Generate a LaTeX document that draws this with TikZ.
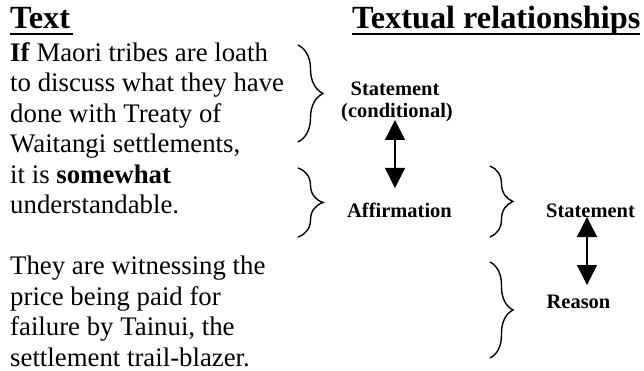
\documentclass[tikz,border=0pt]{standalone}
\usepackage{fontspec}
\setmainfont{Liberation Serif}
\usetikzlibrary{arrows.meta,decorations.pathreplacing}
\begin{document}
\begin{tikzpicture}[x=1pt,y=-1pt,
  title/.style={font=\fontsize{32.3}{36}\selectfont\bfseries, inner sep=0pt, anchor=base west},
  body/.style={font=\fontsize{26.8}{30.5}\selectfont, inner sep=0pt, anchor=base west, align=left},
  rel/.style={font=\fontsize{20.5}{23}\selectfont\bfseries, inner sep=0pt, anchor=base},
  uline/.style={line width=2.5pt},
  bracket/.style={decorate, decoration={brace, amplitude=#1}, line width=1.4pt},
  dbl/.style={{Triangle[width=20pt,length=20pt]}-{Triangle[width=20pt,length=20pt]}, line width=1.3pt}]
\useasboundingbox (0,0) rectangle (644,371);
% titles
\node[title] (t1) at (10,29) {Text};
\node[title] (t2) at (352,29) {Textual relationships};
\draw[uline] (t1.base west) ++(0,5) -- ++(63,0);
\draw[uline] (t2.base west) ++(0,5) -- ++(288,0);
% body text (base anchor = baseline of the last line)
\node[body] (p1) at (10,214) {\textbf{If} Maori tribes are loath\\to discuss what they have\\done with Treaty of\\Waitangi settlements,\\it is \textbf{somewhat}\\understandable.};
\node[body] (p2) at (10,366) {They are witnessing the\\price being paid for\\failure by Tainui, the\\settlement trail-blazer.};
% braces
\draw[bracket=25pt] (298,45) -- (298,142);
\draw[bracket=25pt] (298,168) -- (298,237);
\draw[bracket=23pt] (490,166) -- (490,237);
\draw[bracket=23pt] (490,262) -- (490,358);
% relationship labels
\node[rel] (s1) at (395,96) {Statement};
\node[rel] (c1) at (397,118) {(conditional)};
\node[rel] (a1) at (399.5,217) {Affirmation};
\node[rel] (s2) at (590.5,217) {Statement};
\node[rel] (r1) at (578.5,308) {Reason};
% arrows
\coordinate (e1a) at (395,120);
\coordinate (e1b) at (395,188);
\coordinate (e2a) at (587,217);
\coordinate (e2b) at (587,285);
\draw[dbl] (e1a) -- (e1b);
\draw[dbl] (e2a) -- (e2b);
\end{tikzpicture}
\end{document}
